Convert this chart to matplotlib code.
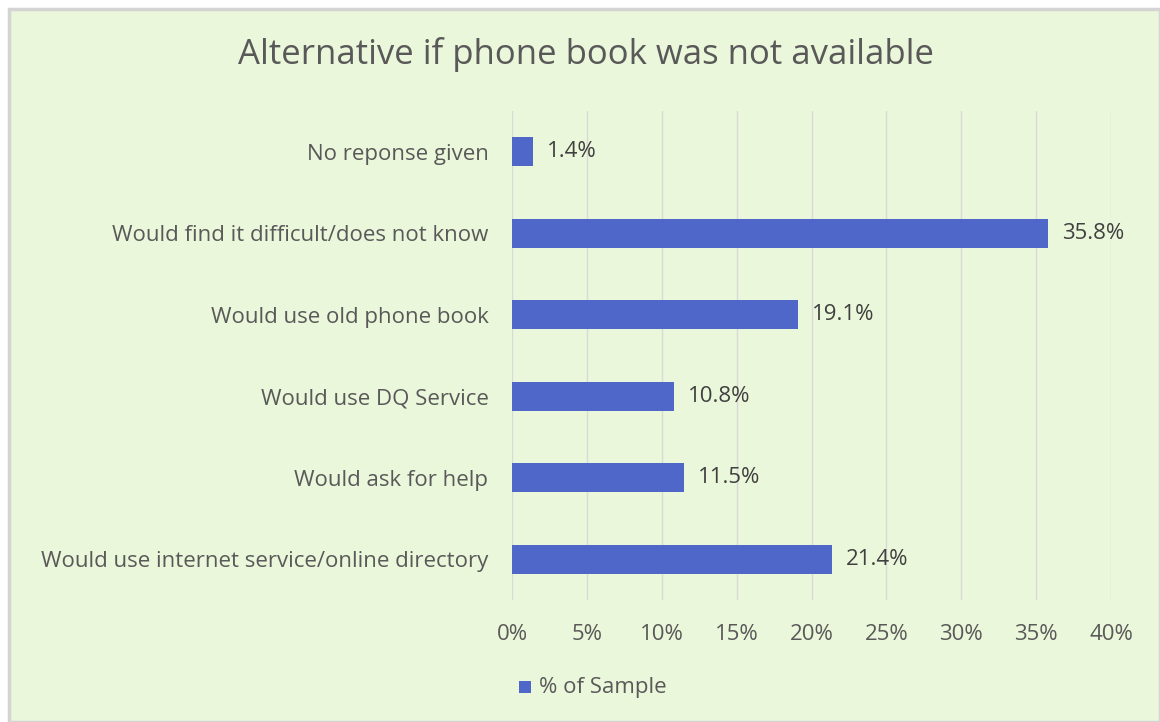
import matplotlib
matplotlib.use("Agg")
import matplotlib.pyplot as plt
from matplotlib.patches import Rectangle

categories = ["No reponse given", "Would find it difficult/does not know",
              "Would use old phone book", "Would use DQ Service",
              "Would ask for help", "Would use internet service/online directory"]
values = [1.4, 35.8, 19.1, 10.8, 11.5, 21.4]
xticks = [0, 5, 10, 15, 20, 25, 30, 35, 40]
series_name = "% of Sample"
title = "Alternative if phone book was not available"

plt.rcParams['font.family'] = ['Open Sans', 'DejaVu Sans']
BG = "#EBF7DA"
BAR = "#4F67C9"
TXT = "#595959"
FS = 16

fig = plt.figure(figsize=(11.6, 7.22), dpi=100)
fig.patch.set_facecolor("white")
# chart frame
fig.add_artist(Rectangle((9/1160, 0), 1 - 9/1160, 1 - 9/722, transform=fig.transFigure,
                         facecolor=BG, edgecolor="#D4D4D4", linewidth=2.5, zorder=-10))

ax = fig.add_axes([512/1160, 1 - 600/722, (1111 - 512)/1160, (600 - 111)/722])
ax.set_facecolor("none")
ypos = list(range(len(categories)))
ax.barh(ypos, values, height=0.35, color=BAR, zorder=3)
ax.set_ylim(len(categories) - 0.5, -0.5)
ax.set_xlim(0, 40)
ax.set_xticks(xticks)
ax.set_xticklabels([f"{t}%" for t in xticks])
ax.set_yticks(ypos)
ax.set_yticklabels(categories)
ax.grid(axis="x", color="#D9D9D9", linewidth=1, zorder=0)
for s in ax.spines.values():
    s.set_visible(False)
ax.tick_params(axis="both", length=0, labelsize=FS, colors=TXT)
ax.tick_params(axis="x", pad=17)
ax.tick_params(axis="y", pad=17)
for y, v in zip(ypos, values):
    ax.annotate(f"{v}%", (v, y), xytext=(10, 0), textcoords="offset points",
                va="center", ha="left", fontsize=FS, color="#404040")

fig.text(586/1160, 1 - 55/722, title, ha="center", va="center", fontsize=25, color=TXT)

fig.add_artist(Rectangle((519/1160, 1 - 693/722), 12/1160, 12/722, transform=fig.transFigure,
                         facecolor=BAR, edgecolor="none"))
fig.text(539/1160, 1 - 687/722, series_name, ha="left", va="center", fontsize=FS, color=TXT)

fig.savefig("out.png", dpi=100, facecolor=fig.get_facecolor())
